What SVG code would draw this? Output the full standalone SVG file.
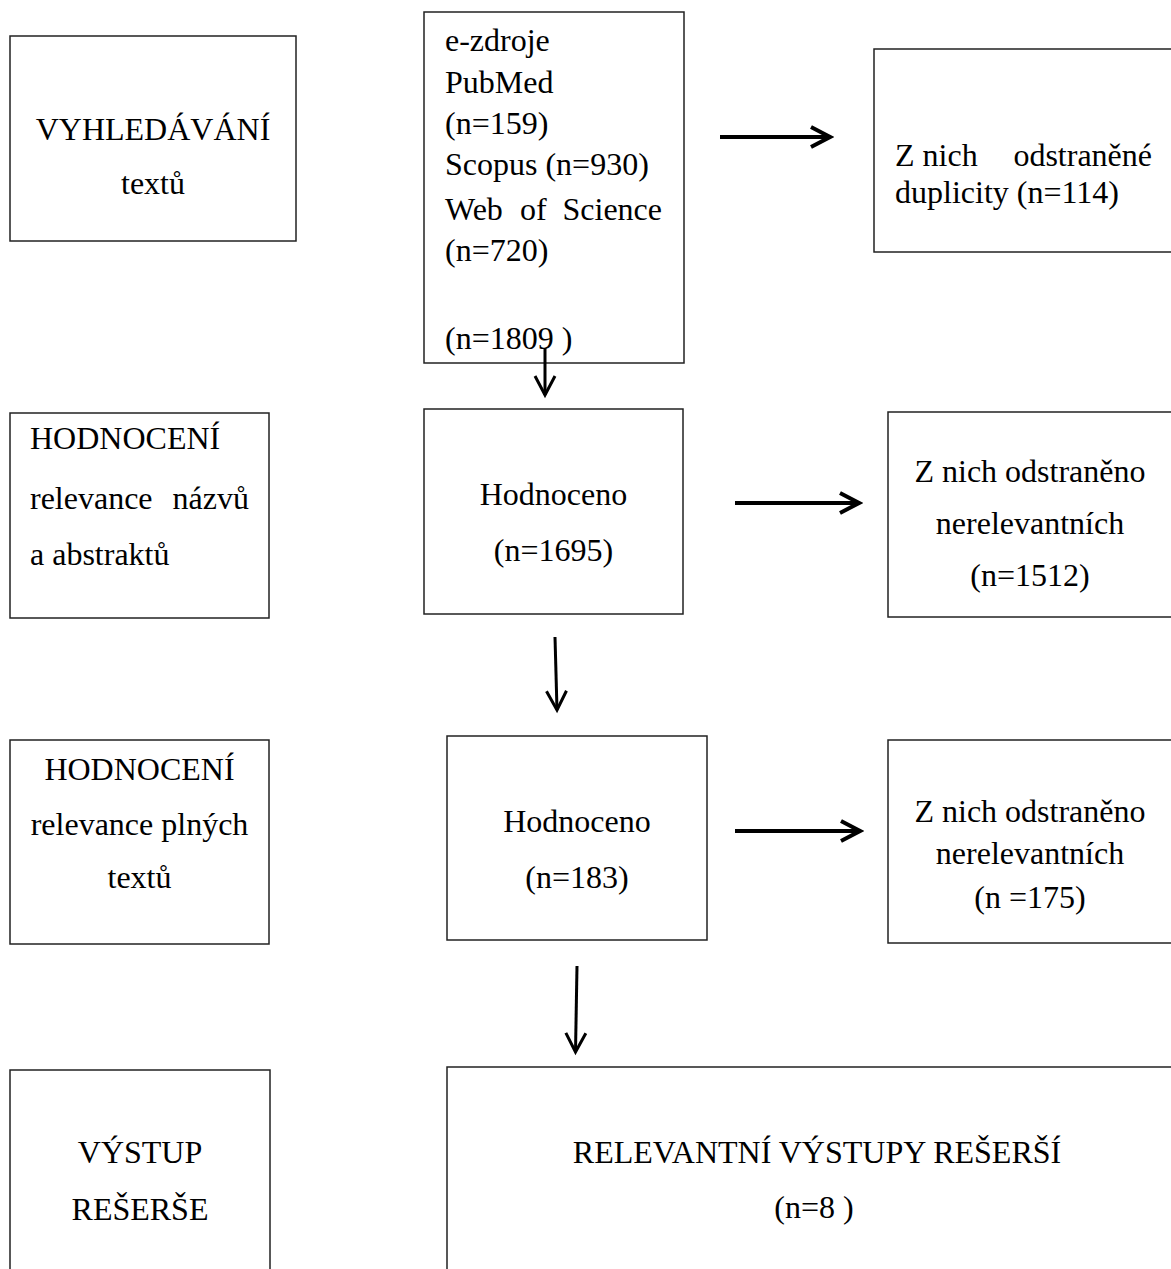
<svg xmlns="http://www.w3.org/2000/svg" width="1171" height="1269" viewBox="0 0 1171 1269">
<defs>
<style>
.box{fill:#fff;stroke:#222;stroke-width:1.5}
text{font-family:"Liberation Serif","Times New Roman",serif;font-size:32px;fill:#000}
.c{text-anchor:middle}
.e{text-anchor:end}
.conn{fill:none;stroke:#000;stroke-width:4}
.conn.thin{stroke-width:3}
</style>
<marker id="ah" markerUnits="userSpaceOnUse" viewBox="-24 -14 28 28" refX="0" refY="0" markerWidth="28" markerHeight="28" orient="auto">
<path d="M-19,-10 L0,0 L-19,10" fill="none" stroke="#000" stroke-width="4"/>
</marker>
<marker id="ah2" markerUnits="userSpaceOnUse" viewBox="-24 -14 28 28" refX="0" refY="0" markerWidth="28" markerHeight="28" orient="auto">
<path d="M-19,-10 L0,0 L-19,10" fill="none" stroke="#000" stroke-width="3"/>
</marker>
</defs>
<rect width="1171" height="1269" fill="#fff"/>

<g id="vyhledavani">
<rect class="box" x="10" y="36" width="286" height="205"/>
<text class="c" x="153" y="140">VYHLEDÁVÁNÍ</text>
<text class="c" x="153" y="194">textů</text>
</g>

<g id="ezdroje">
<rect class="box" x="424" y="12" width="260" height="351"/>
<text x="445" y="51">e-zdroje</text>
<text x="445" y="93">PubMed</text>
<text x="445" y="134">(n=159)</text>
<text x="445" y="175">Scopus (n=930)</text>
<text x="445" y="220">Web</text>
<text x="520" y="220">of</text>
<text class="e" x="662" y="220">Science</text>
<text x="445" y="261">(n=720)</text>
<text x="445" y="349">(n=1809 )</text>
</g>

<g id="duplicity">
<rect class="box" x="874" y="49" width="310" height="203"/>
<text x="895" y="166">Z nich</text>
<text class="e" x="1152" y="166">odstraněné</text>
<text x="895" y="203">duplicity (n=114)</text>
</g>

<g id="hodnoceni-nazvu">
<rect class="box" x="10" y="413" width="259" height="205"/>
<text x="30" y="449">HODNOCENÍ</text>
<text x="30" y="509">relevance</text>
<text class="e" x="249" y="509">názvů</text>
<text x="30" y="565">a abstraktů</text>
</g>

<g id="hodnoceno-1695">
<rect class="box" x="424" y="409" width="259" height="205"/>
<text class="c" x="553.5" y="505">Hodnoceno</text>
<text class="c" x="553.5" y="561">(n=1695)</text>
</g>

<g id="odstraneno-1512">
<rect class="box" x="888" y="412" width="300" height="205"/>
<text class="c" x="1030" y="482">Z nich odstraněno</text>
<text class="c" x="1030" y="534">nerelevantních</text>
<text class="c" x="1030" y="586">(n=1512)</text>
</g>

<g id="hodnoceni-textu">
<rect class="box" x="10" y="740" width="259" height="204"/>
<text class="c" x="139.5" y="780">HODNOCENÍ</text>
<text class="c" x="139.5" y="835">relevance plných</text>
<text class="c" x="139.5" y="888">textů</text>
</g>

<g id="hodnoceno-183">
<rect class="box" x="447" y="736" width="260" height="204"/>
<text class="c" x="577" y="832">Hodnoceno</text>
<text class="c" x="577" y="888">(n=183)</text>
</g>

<g id="odstraneno-175">
<rect class="box" x="888" y="740" width="300" height="203"/>
<text class="c" x="1030" y="822">Z nich odstraněno</text>
<text class="c" x="1030" y="864">nerelevantních</text>
<text class="c" x="1030" y="908">(n =175)</text>
</g>

<g id="vystup">
<rect class="box" x="10" y="1070" width="260" height="220"/>
<text class="c" x="140" y="1163">VÝSTUP</text>
<text class="c" x="140" y="1220">REŠERŠE</text>
</g>

<g id="relevantni">
<rect class="box" x="447" y="1067" width="750" height="230"/>
<text class="c" x="817" y="1163">RELEVANTNÍ VÝSTUPY REŠERŠÍ</text>
<text class="c" x="814" y="1218">(n=8 )</text>
</g>

<g id="connectors">
<path class="conn" d="M720,137 H830" marker-end="url(#ah)"/>
<path class="conn" d="M735,503 H859" marker-end="url(#ah)"/>
<path class="conn" d="M735,831 H860" marker-end="url(#ah)"/>
<path class="conn thin" d="M545,348 V395" marker-end="url(#ah2)"/>
<path class="conn thin" d="M555,637 L557,710" marker-end="url(#ah2)"/>
<path class="conn thin" d="M577,966 L575.5,1052" marker-end="url(#ah2)"/>
</g>
</svg>
